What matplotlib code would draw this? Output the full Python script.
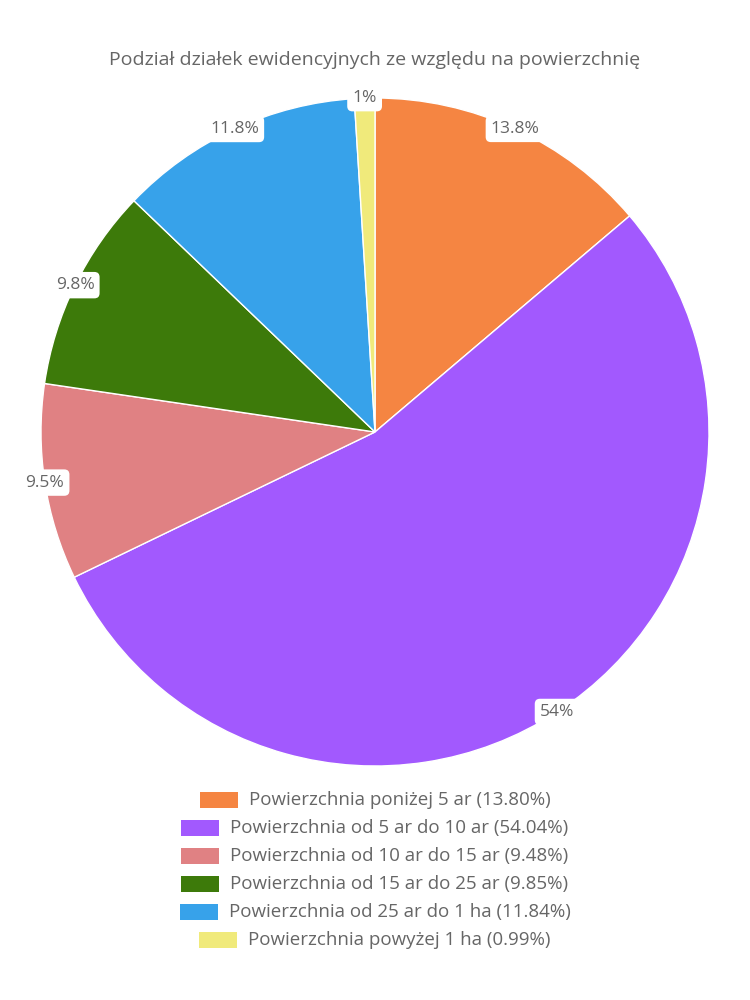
import matplotlib
matplotlib.use("Agg")
import matplotlib.pyplot as plt
from matplotlib.patches import Rectangle
import numpy as np

title = "Podział działek ewidencyjnych ze względu na powierzchnię"
categories = [
    "Powierzchnia poniżej 5 ar",
    "Powierzchnia od 5 ar do 10 ar",
    "Powierzchnia od 10 ar do 15 ar",
    "Powierzchnia od 15 ar do 25 ar",
    "Powierzchnia od 25 ar do 1 ha",
    "Powierzchnia powyżej 1 ha",
]
values = [13.80, 54.04, 9.48, 9.85, 11.84, 0.99]
slice_labels = ["13.8%", "54%", "9.5%", "9.8%", "11.8%", "1%"]
colors = ["#F58542", "#A259FE", "#E08183", "#3D7A0A", "#37A2EA", "#F0EA7B"]

plt.rcParams['font.family'] = ['Open Sans', 'DejaVu Sans']
TXT = "#666666"

fig = plt.figure(figsize=(7.5, 10), dpi=100)
ax = fig.add_axes([41/750, 234/1000, 668/750, 668/1000])
wedges, _ = ax.pie(values, colors=colors, startangle=90, counterclock=False,
                   radius=1.0, wedgeprops=dict(edgecolor="white", linewidth=1))
ax.set_xlim(-1, 1)
ax.set_ylim(-1, 1)
ax.set_aspect("equal")
ax.axis("off")

total = sum(values)
cum = 0.0
for v, lab in zip(values, slice_labels):
    mid = (cum + v / 2) / total * 2 * np.pi
    cum += v
    x, y = np.sin(mid), np.cos(mid)
    ax.text(x, y, lab, ha="center", va="center", fontsize=12.5, color=TXT,
            bbox=dict(boxstyle="round,pad=0.3,rounding_size=0.3", fc="white", ec="none"),
            clip_on=False, zorder=5)

fig.text(0.5, 1 - 60/1000, title, ha="center", va="center", fontsize=14, color=TXT)

# legend, each row centered
fig.canvas.draw()
renderer = fig.canvas.get_renderer()
box_w, box_h, gap = 38, 16, 11
row0, dy = 800, 28
for i, (cat, v, c) in enumerate(zip(categories, values, colors)):
    ypx = row0 + i * dy
    t = fig.text(0, 1 - ypx/1000, f"{cat} ({v:.2f}%)", ha="left", va="center",
                 fontsize=13.5, color=TXT)
    w = t.get_window_extent(renderer).width
    total_w = box_w + gap + w
    x0 = 375 - total_w / 2
    t.set_x((x0 + box_w + gap) / 750)
    fig.patches.append(Rectangle((x0/750, 1 - (ypx + box_h/2)/1000), box_w/750, box_h/1000,
                                 transform=fig.transFigure, fc=c, ec="none"))

fig.savefig("out.png", dpi=100, facecolor="white")
